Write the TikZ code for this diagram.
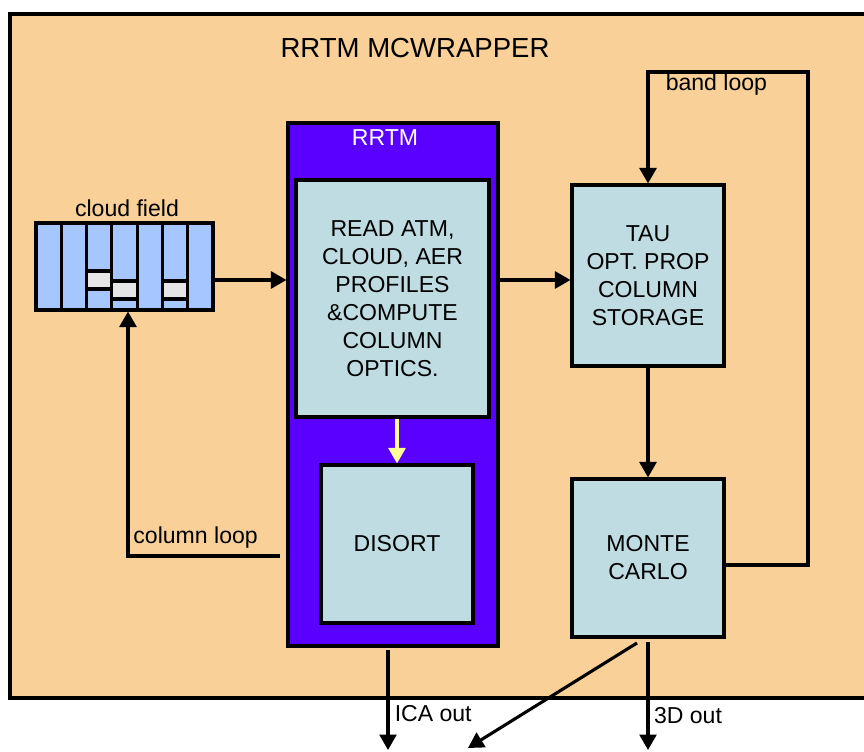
\documentclass[tikz,border=0pt]{standalone}
\usepackage{fontspec}
\setmainfont{Liberation Sans}
\usetikzlibrary{arrows.meta,positioning}
\definecolor{wrapbg}{RGB}{248,208,152}
\definecolor{rrtmpurple}{RGB}{90,0,255}
\definecolor{boxblue}{RGB}{190,220,225}
\definecolor{colblue}{RGB}{166,198,255}
\definecolor{cellgrey}{RGB}{230,230,230}
\definecolor{arrowyellow}{RGB}{255,255,153}

\begin{document}
\begin{tikzpicture}[every node/.style={align=center,font=\fontsize{16.4}{20}\selectfont},
    procbox/.style={draw,line width=2.2pt,fill=boxblue,minimum width=3.8cm,minimum height=3.95cm},
    flow/.style={-{Triangle[length=11pt,width=12pt]},line width=2.2pt}]
    \useasboundingbox (0,0) rectangle (21.6,18.8);
    \fill[wrapbg] (0.25,1.35) rectangle (21.6,18.45);
    \draw[line width=2.2pt] (21.6,18.45) -- (0.25,18.45) -- (0.25,1.35) -- (21.6,1.35);
    \node (title) at (10.375,17.6) {\fontsize{19.6}{22}\selectfont RRTM MCWRAPPER};
    \node[draw,line width=2.2pt,fill=rrtmpurple,minimum width=5.25cm,minimum height=13.075cm] (rrtm) at (9.825,9.1875) {};
    \node[white] (rrtmlbl) at (9.625,15.35) {RRTM};
    \node[procbox,minimum width=4.825cm,minimum height=5.925cm] (read) at (9.8125,11.3375)
      {READ ATM,\\CLOUD, AER\\PROFILES\\\&COMPUTE\\COLUMN\\OPTICS.};
    \node[procbox] (disort) at (9.925,5.2) {DISORT};
    \node[procbox,minimum height=4.525cm] (tau) at (16.2,11.9125) {TAU\\OPT. PROP\\COLUMN\\STORAGE};
    \node[procbox] (mc) at (16.2,4.85) {MONTE\\CARLO};
    % cloud field
    \node[draw,line width=2.2pt,fill=colblue,minimum width=4.425cm,minimum height=2.175cm,inner sep=0] (cloud) at (3.1125,12.1375) {};
    \draw[line width=2.2pt,fill=cellgrey] (2.164,12.025) rectangle (2.796,11.575);
    \draw[line width=2.2pt,fill=cellgrey] (2.796,11.775) rectangle (3.428,11.325);
    \draw[line width=2.2pt,fill=cellgrey] (4.061,11.775) rectangle (4.693,11.325);
    \foreach \i in {1,...,6}
      \draw[line width=2.2pt] ({0.9+0.6321*\i},13.225) -- ({0.9+0.6321*\i},11.05);
    \node (cloudlbl) at (3.175,13.6) {cloud field};
    % connectors
    \coordinate (cloudout) at ([yshift=-0.3375cm]cloud.east);
    \draw[flow] (cloudout) -- (cloudout -| rrtm.west);
    \draw[flow] (cloudout -| rrtm.east) -- (cloudout -| tau.west);
    \draw[flow,arrowyellow] (disort.north |- read.south) -- (disort.north);
    \draw[flow] (tau) -- (mc);
    \coordinate (bandright) at (20.2,17.0);
    \draw[flow] ([yshift=-0.175cm]mc.east) -| (bandright) -| (tau.north);
    \node (bandlbl) at (17.91,16.675) {band loop};
    \coordinate (colstart) at (7.0,4.9);
    \coordinate (colturn) at (3.2,4.9);
    \draw[flow] (colstart) -- (colturn) -- (colturn |- cloud.south);
    \node (collbl) at (4.89,5.35) {column loop};
    \coordinate (icastart) at (9.7,2.55);
    \coordinate (icaend) at (9.7,0.05);
    \draw[flow] (icastart) -- (icaend);
    \node (icalbl) at (10.83,0.95) {ICA out};
    \coordinate (diagstart) at (15.925,2.725);
    \coordinate (diagend) at (11.7,0.1);
    \draw[flow] (diagstart) -- (diagend);
    \coordinate (outend) at (16.2,0.05);
    \draw[flow] ([yshift=-0.08cm]mc.south) -- (outend);
    \node (outlbl) at (17.2,0.9) {3D out};
  \end{tikzpicture}
\end{document}
